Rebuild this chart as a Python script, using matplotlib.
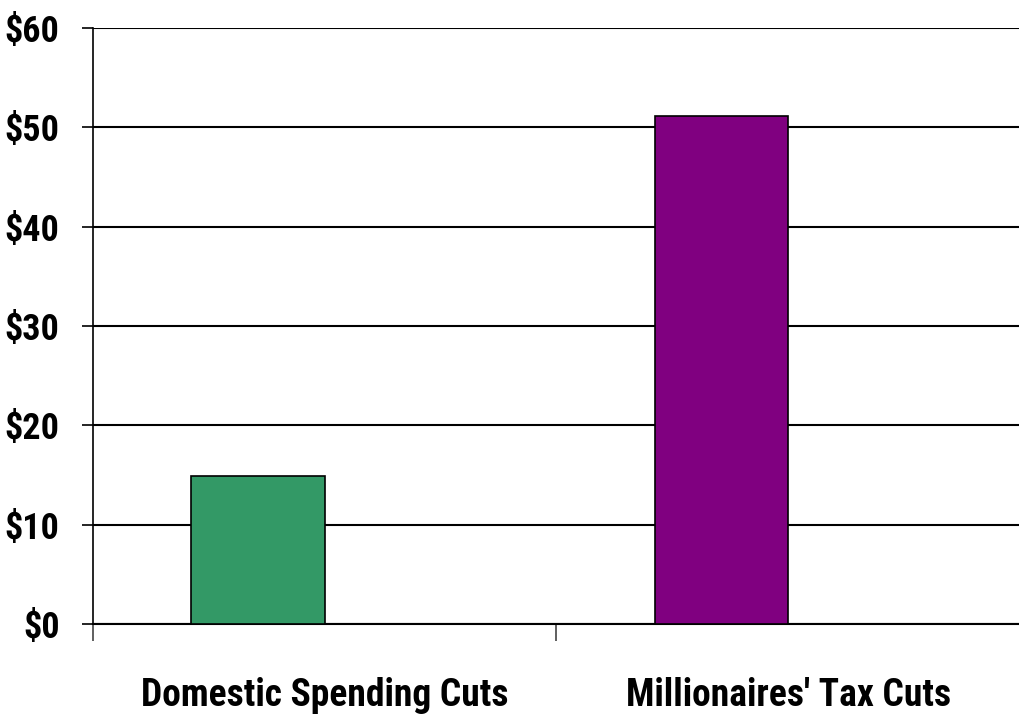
import matplotlib
matplotlib.use("Agg")
import matplotlib.pyplot as plt
import numpy as np
from matplotlib import font_manager

categories = ["Domestic Spending Cuts", "Millionaires' Tax Cuts"]
values = [14.9, 51.1]
colors = ["#339966", "#800080"]
yticks = [0, 10, 20, 30, 40, 50, 60]
ytick_labels = ["$0", "$10", "$20", "$30", "$40", "$50", "$60"]

names = {f.name for f in font_manager.fontManager.ttflist}
fam = "DejaVu Sans"
for cand in ["Roboto Condensed", "PT Sans Narrow", "Archivo Narrow", "Liberation Sans"]:
    if cand in names:
        fam = cand
        break

fig = plt.figure(figsize=(10.2, 7.17), dpi=100)
ax = fig.add_axes([93/1020, 93/717, 927/1020, 596/717])

x = np.arange(len(categories))
bar_offset = -0.144  # bars sit left of the category centre (clustered layout)
ax.bar(x + bar_offset, values, width=0.288, color=colors, edgecolor="black",
       linewidth=1.2, zorder=3)

ax.set_ylim(0, 60)
ax.set_xlim(-0.5, 1.464)
ax.set_yticks(yticks)
ax.set_yticklabels(ytick_labels, fontfamily=fam, fontweight="bold", fontsize=26)
ax.yaxis.grid(True, color="black", linewidth=1.5, zorder=0)
ax.set_axisbelow(True)

# category boundary ticks (major) and category labels (minor)
ax.set_xticks([-0.5, 0.5, 1.5])
ax.set_xticklabels(["", "", ""])
ax.set_xticks(x, minor=True)
ax.set_xticklabels(categories, minor=True, fontfamily=fam, fontweight="bold", fontsize=27)
ax.tick_params(axis="x", which="major", length=12, width=1.2, color="#444444")
ax.tick_params(axis="x", which="minor", length=0, pad=38)
ax.tick_params(axis="y", length=8, width=1.2, pad=16)

for s in ["top", "right"]:
    ax.spines[s].set_visible(False)
ax.spines["left"].set_linewidth(1.2)
ax.spines["bottom"].set_linewidth(1.5)

fig.savefig("out.png", dpi=100)
